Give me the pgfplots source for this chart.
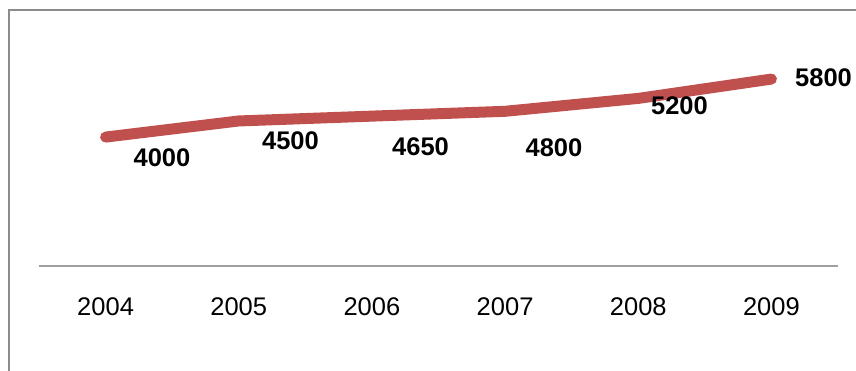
\documentclass[border=0pt]{standalone}
\usepackage{pgfplots}
\pgfplotsset{compat=1.18}
\usepackage{fontspec}
\setmainfont{Liberation Sans}
\definecolor{linered}{HTML}{C0504D}
\definecolor{framegray}{HTML}{8C8C8C}
\definecolor{axisgray}{HTML}{A0A0A0}
\newcommand{\lblfont}{\fontsize{25.5}{30}\selectfont}
\begin{document}
\begin{tikzpicture}
\useasboundingbox (0,0) rectangle (856pt,371pt);
\fill[white] (0,0) rectangle (856pt,371pt);
\draw[framegray, line width=1.8pt] (9pt,-20pt) -- (9pt,361pt) -- (880pt,361pt);
\begin{axis}[
  at={(39pt,105pt)}, anchor=south west,
  scale only axis, width=799pt, height=225.6pt,
  xmin=-0.5, xmax=5.5, ymin=0, ymax=7000,
  axis x line*=bottom, axis y line=none,
  x axis line style={-, draw=axisgray, line width=1.6pt},
  xtick={0,1,2,3,4,5},
  xticklabels={2004,2005,2006,2007,2008,2009},
  major tick length=0pt,
  xticklabel style={anchor=center, yshift=-41pt, font=\lblfont},
  /pgf/number format/assume math mode=true,
  ytick=\empty,
  clip=false,
]
\addplot[color=linered, line width=11pt, line cap=round, line join=round]
  coordinates {(0,4000) (1,4500) (2,4650) (3,4800) (4,5200) (5,5800)};
\node[font=\lblfont\bfseries, xshift=56.4pt, yshift=-20.9pt] at (axis cs:0,4000) {4000};
\node[font=\lblfont\bfseries, xshift=51.7pt, yshift=-20pt] at (axis cs:1,4500) {4500};
\node[font=\lblfont\bfseries, xshift=48.6pt, yshift=-30.4pt] at (axis cs:2,4650) {4650};
\node[font=\lblfont\bfseries, xshift=48.9pt, yshift=-36.2pt] at (axis cs:3,4800) {4800};
\node[font=\lblfont\bfseries, xshift=41.2pt, yshift=-7.6pt] at (axis cs:4,5200) {5200};
\node[font=\lblfont\bfseries, xshift=52.1pt, yshift=1.1pt] at (axis cs:5,5800) {5800};
\end{axis}
\end{tikzpicture}
\end{document}
